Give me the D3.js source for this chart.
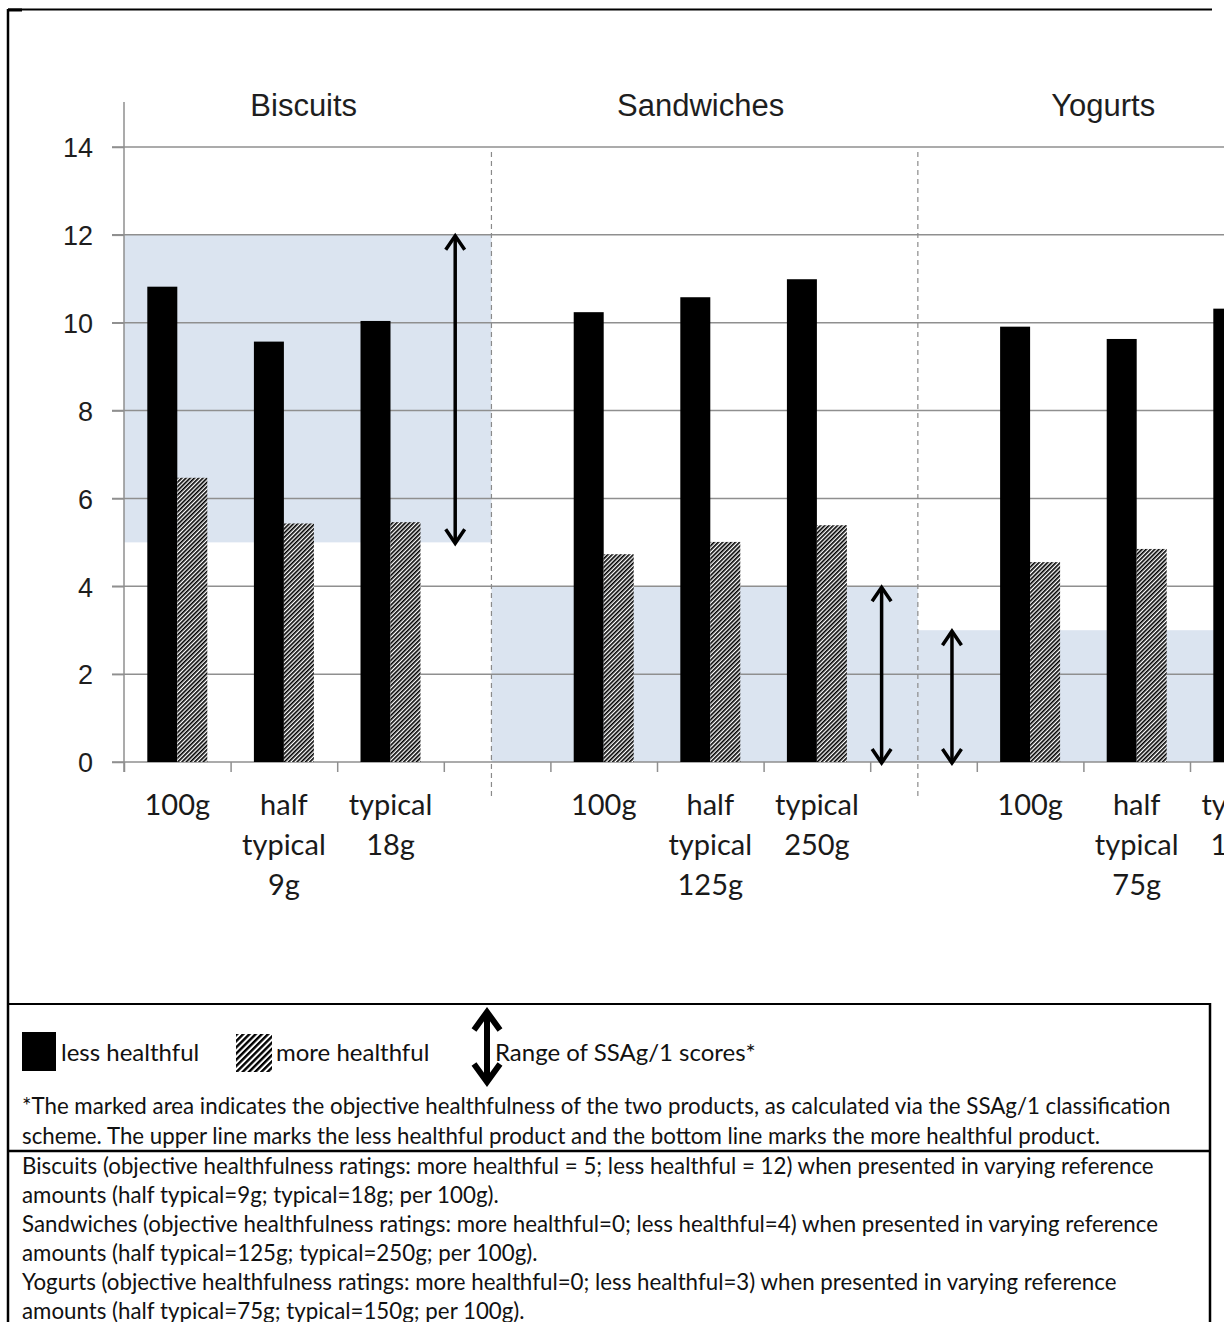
<!DOCTYPE html>
<html><head><meta charset="utf-8">
<script src="https://cdn.jsdelivr.net/npm/d3@7"></script>
<style>body{margin:0;background:#fff} svg{display:block}</style>
</head><body>
<script>
// ---- data ----
const groupNames = ["Biscuits", "Sandwiches", "Yogurts"];
const amountLabels = [
  ["100g"], ["half", "typical", "9g"], ["typical", "18g"],
  ["100g"], ["half", "typical", "125g"], ["typical", "250g"],
  ["100g"], ["half", "typical", "75g"], ["typical", "150g"]
];
const seriesNames = ["less healthful", "more healthful"];
const lessHealthful = [10.82, 9.57, 10.04, 10.24, 10.58, 10.99, 9.91, 9.63, 10.32];
const moreHealthful = [6.47, 5.43, 5.46, 4.73, 5.01, 5.39, 4.55, 4.85, 4.95];
const ssagLess = [12, 4, 3];   // SSAg/1 score of the less healthful product
const ssagMore = [5, 0, 0];    // SSAg/1 score of the more healthful product
const yTicks = [0, 2, 4, 6, 8, 10, 12, 14];
const rangeLabel = "Range of SSAg/1 scores*";
const footnoteLines = [
  "*The marked area indicates the objective healthfulness of the two products, as calculated via the SSAg/1 classification",
  "scheme. The upper line marks the less healthful product and the bottom line marks the more healthful product."
];
const captionLines = [
  "Biscuits (objective healthfulness ratings: more healthful = 5; less healthful = 12) when presented in varying reference",
  "amounts (half typical=9g; typical=18g; per 100g).",
  "Sandwiches (objective healthfulness ratings: more healthful=0; less healthful=4) when presented in varying reference",
  "amounts (half typical=125g; typical=250g; per 100g).",
  "Yogurts (objective healthfulness ratings: more healthful=0; less healthful=3) when presented in varying reference",
  "amounts (half typical=75g; typical=150g; per 100g)."
];

// ---- layout ----
const W = 1231, H = 1322;
const bodyFont = "Lato, 'Open Sans', sans-serif";
const axisFont = "'Liberation Sans', Arial, sans-serif";
const plotLeft = 124, slotW = 106.6, clipRight = 1224;

const svg = d3.select("body").append("svg").attr("width", W).attr("height", H);
svg.append("rect").attr("width", W).attr("height", H).attr("fill", "#fff");

const defs = svg.append("defs");
function hatch(id, period, stroke) {
  const p = defs.append("pattern").attr("id", id)
    .attr("patternUnits", "userSpaceOnUse")
    .attr("width", period).attr("height", period)
    .attr("patternTransform", "rotate(45)");
  p.append("rect").attr("width", period).attr("height", period).attr("fill", "#fff");
  p.append("rect").attr("width", stroke).attr("height", period).attr("fill", "#000");
}
hatch("hatchBar", 3, 1.65);
hatch("hatchKey", 4.4, 2.4);
defs.append("clipPath").attr("id", "plotClip")
  .append("rect").attr("x", 0).attr("y", 0).attr("width", clipRight).attr("height", 1000);

// slots: three amounts per group plus a spacer slot between groups
const slotKeys = [];
groupNames.forEach((g, gi) => {
  for (let i = 0; i < 3; i++) slotKeys.push(g + i);
  if (gi < groupNames.length - 1) slotKeys.push(g + "gap");
});
const x = d3.scaleBand().domain(slotKeys).range([plotLeft, plotLeft + slotKeys.length * slotW]).padding(0);
const bw = x.bandwidth();
const xs = d3.scaleBand().domain(seriesNames).range([0, bw]).paddingInner(0).paddingOuter(0.777);
const y = d3.scaleLinear().domain([0, 14]).range([762, 147]);
const xBound = d3.scaleLinear().domain([0, slotKeys.length]).range([plotLeft, plotLeft + slotKeys.length * slotW]);

const items = amountLabels.map((lab, i) => ({
  key: groupNames[Math.floor(i / 3)] + (i % 3),
  label: lab, less: lessHealthful[i], more: moreHealthful[i]
}));

// group regions separated by the dashed lines
const seps = groupNames.slice(0, -1).map(g => x(g + "gap") + 0.447 * bw);
const regions = groupNames.map((g, gi) => ({
  name: g,
  x0: gi === 0 ? plotLeft : seps[gi - 1],
  x1: gi < seps.length ? seps[gi] : xBound.range()[1],
  lo: ssagMore[gi], hi: ssagLess[gi], gi
}));

const plot = svg.append("g").attr("clip-path", "url(#plotClip)");

// shaded SSAg/1 ranges
plot.selectAll("rect.range").data(regions).join("rect").attr("class", "range")
  .attr("x", d => d.x0).attr("width", d => d.x1 - d.x0)
  .attr("y", d => y(d.hi)).attr("height", d => y(d.lo) - y(d.hi))
  .attr("fill", "#dbe4f0");

// gridlines
plot.selectAll("line.grid").data(yTicks).join("line").attr("class", "grid")
  .attr("x1", 112).attr("x2", xBound.range()[1])
  .attr("y1", d => y(d)).attr("y2", d => y(d))
  .attr("stroke", "#8f8f8f").attr("stroke-width", 1.5);

// y axis
const yAxis = svg.append("g").attr("transform", `translate(${plotLeft},0)`)
  .call(d3.axisLeft(y).tickValues(yTicks).tickSize(12).tickPadding(19).tickFormat(d3.format("d")));
yAxis.select(".domain").remove();
yAxis.selectAll(".tick line").attr("stroke", "#8f8f8f").attr("stroke-width", 1.5);
yAxis.selectAll(".tick text").attr("font-family", axisFont).attr("font-size", 27)
  .attr("fill", "#1e1e1e").attr("dy", "0.36em");
svg.append("line").attr("x1", plotLeft).attr("x2", plotLeft).attr("y1", 102).attr("y2", 772)
  .attr("stroke", "#8f8f8f").attr("stroke-width", 1.5);

// x axis ticks at slot boundaries
const xAxis = plot.append("g").attr("transform", `translate(0,${y(0)})`)
  .call(d3.axisBottom(xBound).tickValues(d3.range(0, slotKeys.length + 1)).tickSize(10).tickFormat(""));
xAxis.select(".domain").remove();
xAxis.selectAll(".tick line").attr("stroke", "#8f8f8f").attr("stroke-width", 1.5);

// dashed separators
plot.selectAll("line.sep").data(seps).join("line").attr("class", "sep")
  .attr("x1", d => d).attr("x2", d => d).attr("y1", 152).attr("y2", 800)
  .attr("stroke", "#8a8a8a").attr("stroke-width", 1.2).attr("stroke-dasharray", "5,4");

// bars
const bars = plot.selectAll("g.slot").data(items).join("g").attr("class", "slot")
  .attr("transform", d => `translate(${x(d.key)},0)`);
bars.append("rect").attr("x", xs("less healthful")).attr("width", xs.bandwidth())
  .attr("y", d => y(d.less)).attr("height", d => y(0) - y(d.less)).attr("fill", "#000");
bars.append("rect").attr("x", xs("more healthful")).attr("width", xs.bandwidth())
  .attr("y", d => y(d.more)).attr("height", d => y(0) - y(d.more)).attr("fill", "url(#hatchBar)");

// double-headed arrows
function arrow(g, ax, yTop, yBot, sw, hw, hh) {
  g.append("line").attr("x1", ax).attr("x2", ax).attr("y1", yTop + 1).attr("y2", yBot - 1)
    .attr("stroke", "#000").attr("stroke-width", sw);
  g.append("polyline").attr("points", `${ax - hw},${yTop + hh} ${ax},${yTop} ${ax + hw},${yTop + hh}`)
    .attr("fill", "none").attr("stroke", "#000").attr("stroke-width", sw).attr("stroke-linejoin", "miter");
  g.append("polyline").attr("points", `${ax - hw},${yBot - hh} ${ax},${yBot} ${ax + hw},${yBot - hh}`)
    .attr("fill", "none").attr("stroke", "#000").attr("stroke-width", sw).attr("stroke-linejoin", "miter");
}
regions.forEach(r => {
  const ax = r.gi < seps.length ? r.x1 - 0.34 * bw : r.x0 + 0.32 * bw;
  arrow(plot, ax, y(r.hi) + 1, y(r.lo) + 1, 3.5, 9.5, 14);
});

// group titles
svg.selectAll("text.title").data(regions).join("text").attr("class", "title")
  .attr("x", d => (d.x0 + d.x1) / 2 - 4).attr("y", 116)
  .attr("text-anchor", "middle").attr("font-family", axisFont).attr("font-size", 31)
  .attr("fill", "#1e1e1e").text(d => d.name);

// category labels
const labG = plot.selectAll("text.cat").data(items).join("text").attr("class", "cat")
  .attr("text-anchor", "middle").attr("font-family", bodyFont).attr("font-size", 29)
  .attr("fill", "#1a1a1a");
labG.selectAll("tspan").data(d => d.label.map(t => ({ t, cx: x(d.key) + bw / 2 })))
  .join("tspan").attr("x", d => d.cx).attr("y", (d, i) => 815 + i * 40).text(d => d.t);

// frame
const frame = svg.append("g").attr("stroke", "#000").attr("fill", "none");
frame.append("line").attr("x1", 8).attr("x2", 1212).attr("y1", 9.5).attr("y2", 9.5).attr("stroke-width", 2);
frame.append("line").attr("x1", 8).attr("x2", 22).attr("y1", 10).attr("y2", 10).attr("stroke-width", 3);
frame.append("line").attr("x1", 8).attr("x2", 8).attr("y1", 9).attr("y2", H).attr("stroke-width", 2.5);
frame.append("line").attr("x1", 8).attr("x2", 1211).attr("y1", 1004).attr("y2", 1004).attr("stroke-width", 2);
frame.append("line").attr("x1", 1210).attr("x2", 1210).attr("y1", 1003).attr("y2", H).attr("stroke-width", 2.5);
frame.append("line").attr("x1", 8).attr("x2", 1211).attr("y1", 1151).attr("y2", 1151).attr("stroke-width", 2.5);

// legend
const leg = svg.append("g");
leg.append("rect").attr("x", 22).attr("y", 1032).attr("width", 34).attr("height", 39).attr("fill", "#000");
leg.append("text").attr("x", 61).attr("y", 1061).attr("font-family", bodyFont).attr("font-size", 24)
  .attr("fill", "#111").text(seriesNames[0]);
leg.append("rect").attr("x", 236).attr("y", 1034).attr("width", 36).attr("height", 38).attr("fill", "url(#hatchKey)");
leg.append("text").attr("x", 276).attr("y", 1061).attr("font-family", bodyFont).attr("font-size", 24)
  .attr("fill", "#111").text(seriesNames[1]);
arrow(leg, 487, 1012, 1082, 6, 13, 18);
leg.append("text").attr("x", 495).attr("y", 1061).attr("font-family", bodyFont).attr("font-size", 24)
  .attr("fill", "#111").text(rangeLabel);

// footnote and caption text, scaled horizontally to the box width
const notes = svg.append("g").attr("font-family", bodyFont).attr("font-size", 24).attr("fill", "#111");
const noteLines = footnoteLines.map((t, i) => ({ t, y: 1114 + i * 30 }))
  .concat(captionLines.map((t, i) => ({ t, y: 1174 + i * 29 })));
notes.selectAll("text").data(noteLines).join("text").attr("x", 0).attr("y", d => d.y).text(d => d.t);
const natural = notes.select("text").node().getComputedTextLength();
const sx = 1149 / natural;
notes.attr("transform", `translate(22,0) scale(${sx},1)`);
</script>
</body></html>
